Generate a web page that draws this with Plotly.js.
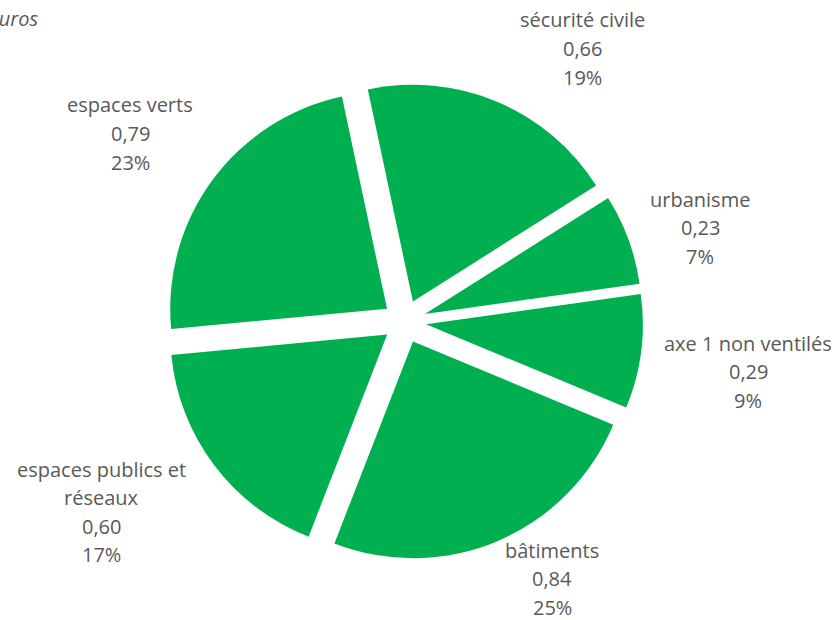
<!DOCTYPE html>
<html>
<head>
<meta charset="utf-8">
<script src="https://cdn.plot.ly/plotly-3.0.1.min.js"></script>
<style>html,body{margin:0;padding:0;background:#fff;}#chart{width:839px;height:620px;}</style>
</head>
<body>
<div id="chart"></div>
<script>
// Data (clockwise from the top)
const categories = ["sécurité civile", "urbanisme", "axe 1 non ventilés", "bâtiments", "espaces publics et\nréseaux", "espaces verts"];
const values = [0.66, 0.23, 0.29, 0.84, 0.60, 0.79];
const pctLabels = ["19%", "7%", "9%", "25%", "17%", "23%"];
const unitNote = "en millions d'euros";

// Layout helpers: label anchor (pixel centre of first line)
const W = 839, H = 620;
const labelAnchor = [[582, 20], [700, 199], [748, 343], [552, 550], [101, 469], [130, 105]];
const lineStep = 28.6;
const txtColor = "#595959";
const fnt = "Open Sans, sans-serif";

const annotations = [];
categories.forEach((cat, i) => {
  const lines = cat.split("\n").concat([values[i].toFixed(2).replace(".", ","), pctLabels[i]]);
  lines.forEach((ln, k) => {
    annotations.push({
      xref: "paper", yref: "paper",
      x: labelAnchor[i][0] / W, y: 1 - (labelAnchor[i][1] + k * lineStep) / H,
      xanchor: "center", yanchor: "middle",
      text: ln, showarrow: false,
      font: {family: fnt, size: 20, color: txtColor}
    });
  });
});
annotations.push({
  xref: "paper", yref: "paper", x: 40 / W, y: 1 - 18 / H,
  xanchor: "right", yanchor: "middle", text: "<i>" + unitNote + "</i>", showarrow: false,
  font: {family: fnt, size: 20, color: txtColor}
});

const trace = {
  type: "pie",
  labels: categories.map(c => c.replace("\n", " ")),
  values: values,
  sort: false,
  direction: "clockwise",
  rotation: -12,
  pull: 0.1,
  marker: {colors: categories.map(() => "#00B050"), line: {width: 0}},
  textinfo: "none",
  hoverinfo: "none",
  showlegend: false,
  domain: {x: [166 / W, 643 / W], y: [1 - 560 / H, 1 - 83 / H]}
};

Plotly.newPlot("chart", [trace], {
  width: W, height: H,
  margin: {l: 0, r: 0, t: 0, b: 0},
  paper_bgcolor: "#fff",
  showlegend: false,
  annotations: annotations
}, {staticPlot: true});
</script>
</body>
</html>
